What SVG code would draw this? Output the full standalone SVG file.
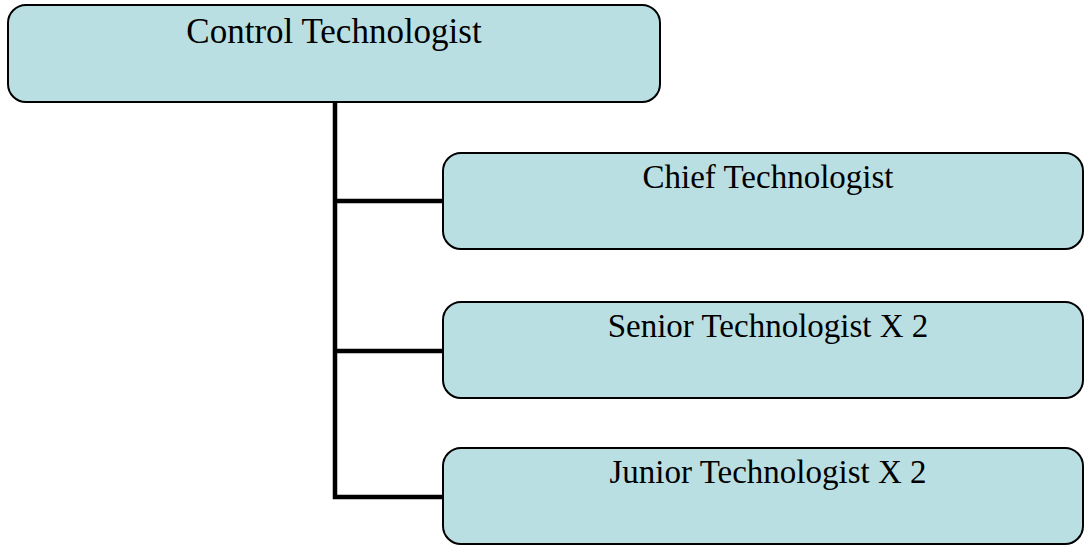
<svg xmlns="http://www.w3.org/2000/svg" width="1086" height="546" viewBox="0 0 1086 546">
<style>
.box{fill:#B9DFE3;stroke:#000;stroke-width:2}
.lbl{font-family:"Liberation Serif","Times New Roman",serif;font-size:33px;fill:#000;text-anchor:middle}
.top{font-size:35px}
.conn{stroke:#000;stroke-width:4.5;fill:none}
</style>
<rect width="1086" height="546" fill="#fff"/>
<g id="connectors">
<path class="conn" d="M335,101 V497 H443"/>
<path class="conn" d="M335,201 H443"/>
<path class="conn" d="M335,351 H443"/>
</g>
<g id="control">
<rect class="box" x="8" y="5" width="652" height="97" rx="18"/>
<text class="lbl top" x="334" y="43">Control Technologist</text>
</g>
<g id="chief">
<rect class="box" x="443" y="153" width="640" height="96" rx="18"/>
<text class="lbl" x="768" y="188">Chief Technologist</text>
</g>
<g id="senior">
<rect class="box" x="443" y="302" width="640" height="96" rx="18"/>
<text class="lbl" x="768" y="337">Senior Technologist X 2</text>
</g>
<g id="junior">
<rect class="box" x="443" y="448" width="640" height="96" rx="18"/>
<text class="lbl" x="768" y="483">Junior Technologist X 2</text>
</g>
</svg>
